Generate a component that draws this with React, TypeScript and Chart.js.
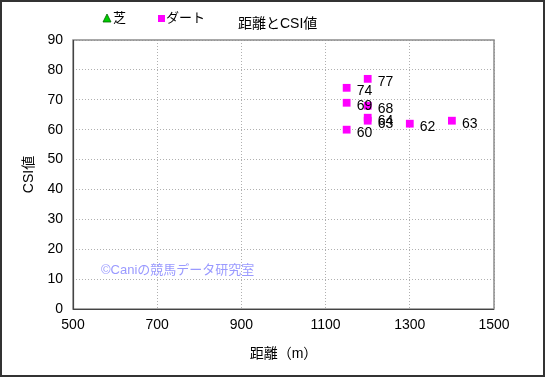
import React, { useEffect, useRef } from "react";
import { Chart, registerables } from "chart.js";

Chart.register(...registerables);

const turfX: number[] = [];
const turfY: number[] = [];
const dirtX = [1150, 1150, 1150, 1200, 1200, 1200, 1200, 1300, 1400];
const dirtY = [74, 69, 60, 77, 68, 64, 63, 62, 63];
const xTicks = [500, 700, 900, 1100, 1300, 1500];
const yTicks = [0, 10, 20, 30, 40, 50, 60, 70, 80, 90];
const titleText = "距離とCSI値";
const xTitle = "距離（m）";
const yTitle = "CSI値";
const watermark = "©Caniの競馬データ研究室";
const legendLabels = ["芝", "ダート"];

const FONT = "'Liberation Sans', 'Noto Sans CJK JP', sans-serif";

const decorPlugin = {
  id: "decor",
  beforeDraw(chart: any) {
    const ctx = chart.ctx;
    ctx.save();
    ctx.fillStyle = "#fff";
    ctx.fillRect(0, 0, chart.width, chart.height);
    ctx.restore();
  },
  afterDatasetsDraw(chart: any) {
    const ctx = chart.ctx;
    const a = chart.chartArea;
    ctx.save();
    // plot border
    ctx.strokeStyle = "#8c8c8c";
    ctx.lineWidth = 1.5;
    ctx.strokeRect(a.left, a.top, a.right - a.left, a.bottom - a.top);
    ctx.strokeStyle = "#444";
    ctx.lineWidth = 1.2;
    ctx.beginPath();
    ctx.moveTo(a.left + 0.5, a.top);
    ctx.lineTo(a.left + 0.5, a.bottom + 0.5);
    ctx.lineTo(a.right, a.bottom + 0.5);
    ctx.stroke();
    // outer border
    ctx.strokeStyle = "#333";
    ctx.lineWidth = 2;
    ctx.strokeRect(1, 1, chart.width - 2, chart.height - 2);
    // data labels
    ctx.fillStyle = "#000";
    ctx.font = `14px ${FONT}`;
    ctx.textBaseline = "middle";
    ctx.textAlign = "left";
    const meta = chart.getDatasetMeta(1);
    meta.data.forEach((pt: any, i: number) => {
      ctx.fillText(String(dirtY[i]), pt.x + 10, pt.y + 3);
    });
    // watermark
    ctx.fillStyle = "#9a9aff";
    ctx.font = `13px ${FONT}`;
    ctx.fillText(watermark, 101, 270);
    // legend
    ctx.fillStyle = "#00cc00";
    ctx.strokeStyle = "#006600";
    ctx.lineWidth = 0.8;
    ctx.beginPath();
    ctx.moveTo(107, 14);
    ctx.lineTo(111, 22);
    ctx.lineTo(103, 22);
    ctx.closePath();
    ctx.fill();
    ctx.stroke();
    ctx.fillStyle = "#000";
    ctx.font = `13px ${FONT}`;
    ctx.fillText(legendLabels[0], 113, 18);
    ctx.fillStyle = "#ff00ff";
    ctx.fillRect(158, 15, 7, 7);
    ctx.fillStyle = "#000";
    ctx.fillText(legendLabels[1], 166, 18);
    // title
    ctx.font = `14px ${FONT}`;
    ctx.fillText(titleText, 238, 24);
    ctx.restore();
  },
};

export default function App() {
  const ref = useRef<HTMLCanvasElement>(null);
  useEffect(() => {
    document.body.style.margin = "0";
    const chart = new Chart(ref.current!, {
      type: "scatter",
      data: {
        datasets: [
          {
            label: legendLabels[0],
            data: turfX.map((x, i) => ({ x, y: turfY[i] })),
            pointStyle: "triangle",
            backgroundColor: "#00cc00",
            borderColor: "#00cc00",
          },
          {
            label: legendLabels[1],
            data: dirtX.map((x, i) => ({ x, y: dirtY[i] })),
            pointStyle: "rect",
            pointRadius: 5.5,
            backgroundColor: "#ff00ff",
            borderColor: "#ff00ff",
            borderWidth: 0,
          },
        ],
      },
      options: {
        animation: false,
        responsive: false,
        layout: { padding: { left: 0, right: 51, top: 40, bottom: 0 } },
        plugins: { legend: { display: false }, title: { display: false }, tooltip: { enabled: false } },
        scales: {
          x: {
            type: "linear",
            min: 500,
            max: 1500,
            afterBuildTicks: (s: any) => {
              s.ticks = xTicks.map((v) => ({ value: v }));
            },
            afterFit: (s: any) => {
              s.height = 68;
            },
            ticks: {
              color: "#000",
              font: { size: 14, family: FONT },
              padding: 8,
              maxRotation: 0,
              callback: (v: any) => String(v),
            },
            grid: { color: "#b0b0b0", drawTicks: false, lineWidth: 1 },
            border: { display: false, dash: [1, 2] },
            title: {
              display: true,
              text: xTitle,
              color: "#000",
              font: { size: 14, family: FONT },
              padding: { top: 0, bottom: 14 },
            },
          },
          y: {
            min: 0,
            max: 90,
            afterBuildTicks: (s: any) => {
              s.ticks = yTicks.map((v) => ({ value: v }));
            },
            afterFit: (s: any) => {
              s.width = 73;
            },
            ticks: { color: "#000", font: { size: 14, family: FONT }, padding: 10 },
            grid: { color: "#b0b0b0", drawTicks: false, lineWidth: 1 },
            border: { display: false, dash: [1, 2] },
            title: {
              display: true,
              text: yTitle,
              color: "#000",
              font: { size: 14, family: FONT },
              padding: { top: 21, bottom: 0 },
            },
          },
        },
      },
      plugins: [decorPlugin],
    } as any);
    return () => chart.destroy();
  }, []);
  return (
    <div style={{ width: 545, height: 377 }}>
      <canvas ref={ref} width={545} height={377} style={{ display: "block" }} />
    </div>
  );
}
